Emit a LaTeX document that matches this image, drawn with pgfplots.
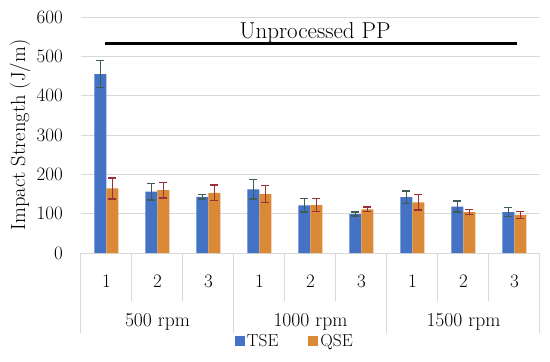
\documentclass[border=0pt]{standalone}
\usepackage{pgfplots}
\pgfplotsset{compat=1.18}
\definecolor{tse}{HTML}{4472C4}
\definecolor{qse}{HTML}{DA8A36}
\definecolor{tseerr}{HTML}{3E5C58}
\definecolor{qseerr}{HTML}{9A2F3A}
\definecolor{gridc}{HTML}{D9D9D9}
\begin{document}
\begin{tikzpicture}
\begin{axis}[name=ax, scale only axis, width=459pt, height=236pt,
 ybar=0pt, bar width=12pt,
 xmin=-0.5, xmax=8.5, ymin=0, ymax=600,
 xtick={0,...,8}, xticklabels={1,2,3,1,2,3,1,2,3},
 ytick={0,100,...,600},
 major tick length=0pt,
 axis line style={draw=none},
 ymajorgrids, grid style={gridc, line width=1pt},
 /pgf/number format/assume math mode=true,
 tick label style={font=\fontsize{19}{22}\selectfont},
 yticklabel style={anchor=east, inner sep=0pt, xshift=-18pt},
 xticklabel style={anchor=center, inner sep=0pt, yshift=-28.5pt},
 ylabel={Impact Strength (J/m)},
 ylabel style={font=\fontsize{20.5}{24}\selectfont, at={(axis description cs:-0.1329,0.5)}, anchor=center},
 clip=false,
 legend columns=2,
 legend style={draw=none, fill=none, font=\fontsize{17.4}{20}\selectfont, at={(axis description cs:0.466,0)}, anchor=center, yshift=-88pt, /tikz/every even column/.append style={column sep=28pt}},
 legend image code/.code={\fill[#1] (0pt,-5pt) rectangle (10pt,5pt);},
]
\addplot[fill=tse, draw=none, forget plot, bar shift=-6pt,
  error bars/.cd, y dir=both, y explicit,
  error bar style={tseerr, line width=1.3pt},
  error mark options={rotate=90, mark size=4pt, line width=1.3pt, tseerr}]
 coordinates {(0,455)+-(0,35) (1,156)+-(0,21) (2,143)+-(0,6) (3,162)+-(0,25) (4,121)+-(0,17) (5,99)+-(0,5) (6,142)+-(0,16) (7,118)+-(0,14) (8,104)+-(0,11)};
\addplot[fill=qse, draw=none, forget plot, bar shift=6pt,
  error bars/.cd, y dir=both, y explicit,
  error bar style={qseerr, line width=1.3pt},
  error mark options={rotate=90, mark size=4pt, line width=1.3pt, qseerr}]
 coordinates {(0,164)+-(0,27) (1,160)+-(0,20) (2,153)+-(0,20) (3,150)+-(0,22) (4,122)+-(0,16) (5,111)+-(0,6) (6,129)+-(0,20) (7,104)+-(0,7) (8,97)+-(0,9)};
\addlegendimage{fill=tse, draw=none}
\addlegendentry{TSE}
\addlegendimage{fill=qse, draw=none}
\addlegendentry{QSE}
\draw[line width=3pt] (axis cs:-0.03,532) -- (axis cs:8.04,532);
\node[font=\fontsize{23}{27}\selectfont] at (axis cs:4.09,560) {Unprocessed PP};
\draw[gridc, line width=1pt] (axis cs:0.5,0) -- ([yshift=-48pt]axis cs:0.5,0);
\draw[gridc, line width=1pt] (axis cs:1.5,0) -- ([yshift=-48pt]axis cs:1.5,0);
\draw[gridc, line width=1pt] (axis cs:3.5,0) -- ([yshift=-48pt]axis cs:3.5,0);
\draw[gridc, line width=1pt] (axis cs:4.5,0) -- ([yshift=-48pt]axis cs:4.5,0);
\draw[gridc, line width=1pt] (axis cs:6.5,0) -- ([yshift=-48pt]axis cs:6.5,0);
\draw[gridc, line width=1pt] (axis cs:7.5,0) -- ([yshift=-48pt]axis cs:7.5,0);
\draw[gridc, line width=1pt] (axis cs:-0.5,0) -- ([yshift=-80pt]axis cs:-0.5,0);
\draw[gridc, line width=1pt] (axis cs:2.5,0) -- ([yshift=-80pt]axis cs:2.5,0);
\draw[gridc, line width=1pt] (axis cs:5.5,0) -- ([yshift=-80pt]axis cs:5.5,0);
\draw[gridc, line width=1pt] (axis cs:8.5,0) -- ([yshift=-80pt]axis cs:8.5,0);
\node[yshift=-69pt, font=\fontsize{19.6}{22}\selectfont] at (axis cs:1,0) {500 rpm};
\node[yshift=-69pt, font=\fontsize{19.6}{22}\selectfont] at (axis cs:4,0) {1000 rpm};
\node[yshift=-69pt, font=\fontsize{19.6}{22}\selectfont] at (axis cs:7,0) {1500 rpm};
\end{axis}
\pgfresetboundingbox
\path (ax.south west) ++(-81pt,-109pt) rectangle ++(550pt,362pt);
\end{tikzpicture}
\end{document}
